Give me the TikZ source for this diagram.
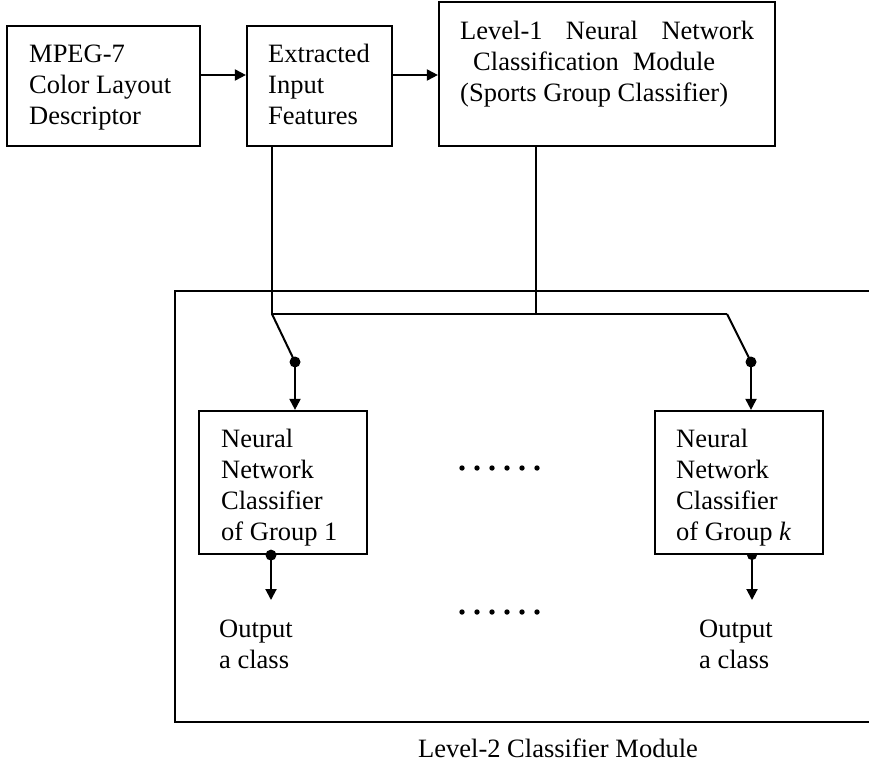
\documentclass[tikz,border=0pt]{standalone}
\usepackage{fontspec}
\setmainfont{Liberation Serif}
\usetikzlibrary{arrows.meta}
\begin{document}
\begin{tikzpicture}[x=1pt,y=-1pt,
  font=\fontsize{26.5}{31}\selectfont,
  blk/.style={draw, line width=2.2pt, inner sep=0pt},
  txt/.style={anchor=base west, inner sep=0pt},
  wire/.style={line width=2pt},
  arr/.style={line width=2pt, -{Triangle[length=11pt,width=11pt]}},
  frame/.style={line width=2.2pt}]
\useasboundingbox (0,0) rectangle (869,763);

% top row of blocks
\node[blk, minimum width=193pt, minimum height=120pt] (b1) at (103.5,86) {};
\node[blk, minimum width=145pt, minimum height=120pt] (b2) at (319.5,86) {};
\node[blk, minimum width=336pt, minimum height=144pt] (b3) at (607,74) {};

\node[txt] (t1) at (29,62) {\vtop{\hbox{MPEG-7}\hbox{Color Layout}\hbox{Descriptor}}};
\node[txt] (t2) at (268,62) {\vtop{\hbox{Extracted}\hbox{Input}\hbox{Features}}};
\node[txt] (t3) at (460,39) {\vtop{\hbox to 294pt{Level-1\hfil Neural\hfil Network}%
  \hbox{\hspace*{13pt}\hbox to 242pt{Classification\hfil Module}}%
  \hbox{(Sports Group Classifier)}}};

% level-2 module frame (open on the right)
\draw[frame] (869,291) -- (175,291) -- (175,722) -- (869,722);
\node[txt] (t4) at (418,757) {Level-2 Classifier Module};

% group classifiers
\node[blk, minimum width=168pt, minimum height=143pt] (g1) at (283,482.5) {};
\node[blk, minimum width=168pt, minimum height=143pt] (gk) at (739,482.5) {};
\node[txt] (tg1) at (221,447) {\vtop{\hbox{Neural}\hbox{Network}\hbox{Classifier}\hbox{of Group 1}}};
\node[txt] (tgk) at (676,447) {\vtop{\hbox{Neural}\hbox{Network}\hbox{Classifier}\hbox{of Group \textit{k}}}};

\node[txt] (out1) at (219,637) {\vtop{\hbox{Output}\hbox{a class}}};
\node[txt] (outk) at (699,637) {\vtop{\hbox{Output}\hbox{a class}}};

% ellipses between the groups
\foreach \i in {0,...,5} {
  \fill (462+15*\i,468) circle (2.7pt);
  \fill (462+15*\i,612) circle (2.7pt);
}

% forward arrows along the top row
\draw[arr] ([yshift=11pt]b1.east) -- ([yshift=11pt]b2.west);
\draw[arr] ([yshift=11pt]b2.east) -- ([yshift=11pt]b2.east -| b3.west);

% feature bus and selector switches
\coordinate (j1) at (272,314);
\coordinate (jk) at (727,314);
\coordinate (j3) at (536,314);
\coordinate (s1) at (295,362);
\coordinate (sk) at (751,362);
\draw[wire] (b2.south -| j1) -- (j1) -- (jk);
\draw[wire] (b3.south -| j3) -- (j3);
\draw[wire] (j1) -- (s1);
\draw[wire] (jk) -- (sk);
\fill (s1) circle (5.5pt);
\fill (sk) circle (5.5pt);
\draw[arr] (s1) -- (s1 |- g1.north);
\draw[arr] (sk) -- (sk |- gk.north);

% outputs
\coordinate (o1) at (271,600);
\coordinate (ok) at (752,600);
\fill (o1 |- g1.south) circle (5.5pt);
\fill (ok |- gk.south) ++(-5pt,0) arc[start angle=180, end angle=360, radius=5pt] -- cycle;
\draw[arr] (o1 |- g1.south) -- (o1);
\draw[arr] (ok |- gk.south) -- (ok);
\end{tikzpicture}
\end{document}
